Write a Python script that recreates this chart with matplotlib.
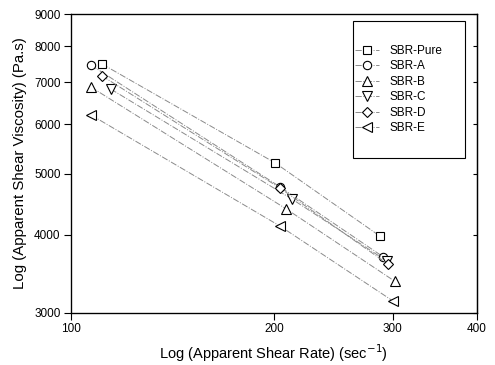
import matplotlib
matplotlib.use('Agg')
import matplotlib.pyplot as plt
from matplotlib.patches import Rectangle
from matplotlib.ticker import FixedLocator, NullLocator, FixedFormatter

plt.rcParams['font.family'] = ['Liberation Sans', 'DejaVu Sans']

# shear rate (1/s) and viscosity (Pa.s)
names = ['SBR-Pure', 'SBR-A', 'SBR-B', 'SBR-C', 'SBR-D', 'SBR-E']
markers = ['s', 'o', '^', 'v', 'D', '<']
rate_pure = [111.2, 200.7, 287.2]
rate_a = [107.1, 204.1, 290.2]
rate_b = [107.1, 208.4, 302.3]
rate_c = [114.6, 212.7, 294.2]
rate_d = [111.2, 204.1, 295.2]
rate_e = [107.1, 204.1, 300.3]
visc_pure = [7490, 5210, 3980]
visc_a = [7460, 4770, 3690]
visc_b = [6880, 4400, 3370]
visc_c = [6830, 4560, 3630]
visc_d = [7170, 4750, 3590]
visc_e = [6210, 4130, 3135]

rates = [rate_pure, rate_a, rate_b, rate_c, rate_d, rate_e]
viscs = [visc_pure, visc_a, visc_b, visc_c, visc_d, visc_e]

xticks = [100, 200, 300, 400]
yticks = [3000, 4000, 5000, 6000, 7000, 8000, 9000]

fig = plt.figure(figsize=(4.95, 3.65), dpi=100)
ax = fig.add_axes([0.1434, 0.1425, 0.820, 0.819])

sizes = {'s': 5.2, 'o': 6.0, '^': 6.5, 'v': 6.5, 'D': 4.8, '<': 6.5}
for name, m, x, y in zip(names, markers, rates, viscs):
    ax.plot(x, y, linestyle='-.', color='#8a8a8a', linewidth=0.7,
            marker=m, markersize=sizes[m], markerfacecolor='white',
            markeredgecolor='black', markeredgewidth=0.8, label=name)

ax.set_xscale('log')
ax.set_yscale('log')
ax.set_xlim(100, 400)
ax.set_ylim(3000, 9000)
ax.xaxis.set_major_locator(FixedLocator(xticks))
ax.xaxis.set_major_formatter(FixedFormatter([str(t) for t in xticks]))
ax.xaxis.set_minor_locator(NullLocator())
ax.yaxis.set_major_locator(FixedLocator(yticks))
ax.yaxis.set_major_formatter(FixedFormatter([str(t) for t in yticks]))
ax.yaxis.set_minor_locator(NullLocator())

ax.tick_params(axis='both', direction='out', length=5, width=0.8,
               labelsize=8.5, pad=2.5)
for s in ax.spines.values():
    s.set_linewidth(0.9)

# short inward ticks on the right spine
ax_r = ax.twinx()
ax_r.set_yscale('log')
ax_r.set_ylim(3000, 9000)
ax_r.yaxis.set_major_locator(FixedLocator(yticks))
ax_r.yaxis.set_minor_locator(NullLocator())
ax_r.tick_params(axis='y', direction='in', length=3, width=0.8,
                 labelright=False)
ax_r.spines['right'].set_linewidth(0.9)

ax.set_xlabel('Log (Apparent Shear Rate) (sec$^{-1}$)', fontsize=10.5,
              labelpad=5)
ax.set_ylabel('Log (Apparent Shear Viscosity) (Pa.s)', fontsize=10.8,
              labelpad=5)

# legend frame drawn separately (it has a lot of empty space inside)
box = Rectangle((0.695, 0.518), 0.275, 0.459, transform=ax.transAxes,
                facecolor='white', edgecolor='black', linewidth=0.8,
                zorder=4)
ax_r.add_patch(box)
leg = ax_r.legend(*ax.get_legend_handles_labels(), loc='center left',
                  bbox_to_anchor=(0.697, 0.7475), fontsize=8.5,
                  frameon=False, handlelength=2.0, labelspacing=0.3,
                  borderpad=0.1, handletextpad=0.9, borderaxespad=0)
leg.set_zorder(5)

fig.savefig('out.png', dpi=100)
